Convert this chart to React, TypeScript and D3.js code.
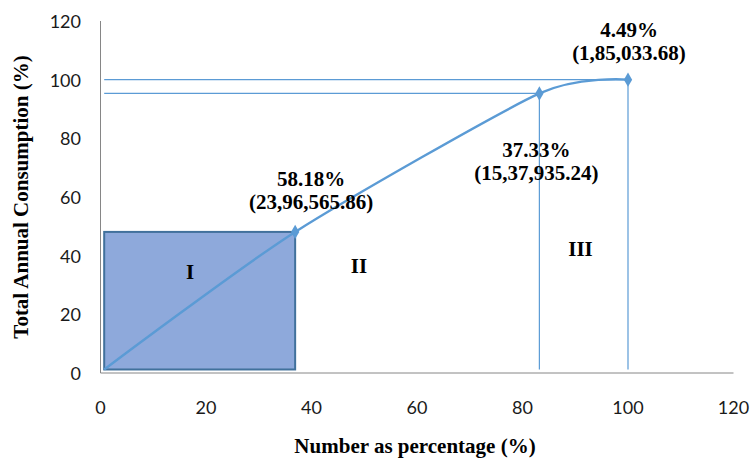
import React from "react";
import * as d3 from "d3";

// cumulative share of items (x) vs cumulative share of consumption (y)
const X_PCT = [0.7, 36.9, 83.2, 100];
const Y_PCT = [1.2, 48.1, 95.3, 100];

const PCT_LABELS = ["58.18%", "37.33%", "4.49%"];
const VALUE_LABELS = ["(23,96,565.86)", "(15,37,935.24)", "(1,85,033.68)"];

const ZONES = ["I", "II", "III"];
const ZONE_X = [17, 49, 91];
const ZONE_Y = [32, 34, 40];

const TICKS = [0, 20, 40, 60, 80, 100, 120];

const W = 752;
const H = 465;
const BLUE = "#5B9BD5";
const SERIF = "'Liberation Serif', 'Times New Roman', serif";

export default function App() {
  const x = d3.scaleLinear().domain([0, 120]).range([100.5, 733.5]);
  const y = d3.scaleLinear().domain([0, 120]).range([373, 21]);

  const pts = X_PCT.map((v, i) => [x(v), y(Y_PCT[i])] as [number, number]);
  const line = d3.line().curve(d3.curveCardinal.tension(0.3))(pts) || "";
  const diamond = d3.symbol().type(d3.symbolDiamond).size(60)() || "";

  // label offsets relative to their points (px)
  const labelDx = [16, -3, 1];
  const labelDy = [-46, 64, -43];

  return (
    <svg
      width={W}
      height={H}
      style={{ position: "absolute", left: 0, top: 0, background: "#fff" }}
    >
      {/* Zone I box */}
      <rect
        x={x(X_PCT[0])}
        y={y(Y_PCT[1])}
        width={x(X_PCT[1]) - x(X_PCT[0])}
        height={y(Y_PCT[0]) - y(Y_PCT[1])}
        fill="#8EA9DB"
        stroke="#41719C"
        strokeWidth={2}
      />

      {/* guide lines */}
      {[2, 3].map((i) => (
        <g key={i}>
          <line
            x1={x(X_PCT[0])}
            x2={pts[i][0]}
            y1={pts[i][1]}
            y2={pts[i][1]}
            stroke={BLUE}
            strokeWidth={1.2}
          />
          <line
            x1={pts[i][0]}
            x2={pts[i][0]}
            y1={pts[i][1]}
            y2={y(Y_PCT[0])}
            stroke={BLUE}
            strokeWidth={1.2}
          />
        </g>
      ))}

      {/* axes */}
      <line x1={x(0)} x2={x(0)} y1={y(120)} y2={y(0)} stroke="#868686" strokeWidth={1} />
      <line x1={x(0)} x2={x(120)} y1={y(0)} y2={y(0)} stroke="#868686" strokeWidth={1} />

      {TICKS.map((t) => (
        <text
          key={"y" + t}
          x={81}
          y={y(t)}
          textAnchor="end"
          dominantBaseline="central"
          fontFamily="Lato, 'Open Sans', sans-serif"
          fontSize={18}
          fill="#1a1a1a"
        >
          {t}
        </text>
      ))}
      {TICKS.map((t) => (
        <text
          key={"x" + t}
          x={x(t)}
          y={407}
          textAnchor="middle"
          dominantBaseline="central"
          fontFamily="Lato, 'Open Sans', sans-serif"
          fontSize={18}
          fill="#1a1a1a"
        >
          {t}
        </text>
      ))}

      {/* curve + markers */}
      <path d={line} fill="none" stroke={BLUE} strokeWidth={2.4} />
      {pts.slice(1).map((p, i) => (
        <path key={i} d={diamond} transform={`translate(${p[0]},${p[1]})`} fill={BLUE} />
      ))}

      {/* point labels */}
      {pts.slice(1).map((p, i) => (
        <text
          key={"l" + i}
          x={p[0] + labelDx[i]}
          y={p[1] + labelDy[i]}
          textAnchor="middle"
          fontFamily={SERIF}
          fontWeight="bold"
          fontSize={21}
          fill="#000"
        >
          <tspan x={p[0] + labelDx[i]}>{PCT_LABELS[i]}</tspan>
          <tspan x={p[0] + labelDx[i]} dy={23}>
            {VALUE_LABELS[i]}
          </tspan>
        </text>
      ))}

      {/* zone labels */}
      {ZONES.map((z, i) => (
        <text
          key={z}
          x={x(ZONE_X[i])}
          y={y(ZONE_Y[i])}
          textAnchor="middle"
          fontFamily={SERIF}
          fontWeight="bold"
          fontSize={21}
          fill="#000"
        >
          {z}
        </text>
      ))}

      {/* axis titles */}
      <text
        x={415}
        y={453}
        textAnchor="middle"
        fontFamily={SERIF}
        fontWeight="bold"
        fontSize={21}
        fill="#000"
      >
        Number as percentage (%)
      </text>
      <text
        transform="translate(28,197) rotate(-90)"
        textAnchor="middle"
        fontFamily={SERIF}
        fontWeight="bold"
        fontSize={21}
        fill="#000"
      >
        Total Annual Consumption (%)
      </text>
    </svg>
  );
}
